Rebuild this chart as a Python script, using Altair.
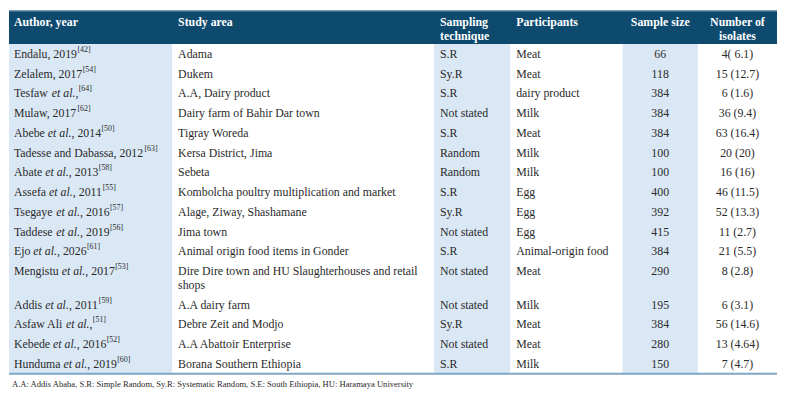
import altair as alt
import pandas as pd

# ---------------- data ----------------
author_names = ["Endalu", "Zelalem", "Tesfaw", "Mulaw", "Abebe", "Tadesse and Dabassa",
                "Abate", "Assefa", "Tsegaye", "Taddese", "Ejo", "Mengistu", "Addis",
                "Asfaw Ali", "Kebede", "Hunduma"]
author_etal = [False, False, True, False, True, False, True, True, True, True, True,
               True, True, True, True, True]
author_years = ["2019", "2017", "", "2017", "2014", "2012", "2013", "2011", "2016",
                "2019", "2026", "2017", "2011", "", "2016", "2019"]
author_refs = [42, 54, 64, 62, 50, 63, 58, 55, 57, 56, 61, 53, 59, 51, 52, 60]
study_area = ["Adama", "Dukem", "A.A, Dairy product", "Dairy farm of Bahir Dar town",
              "Tigray Woreda", "Kersa District, Jima", "Sebeta",
              "Kombolcha poultry multiplication and market",
              "Alage, Ziway, Shashamane", "Jima town",
              "Animal origin food items in Gonder",
              "Dire Dire town and HU Slaughterhouses and retail\nshops",
              "A.A dairy farm", "Debre Zeit and Modjo", "A.A Abattoir Enterprise",
              "Borana Southern Ethiopia"]
sampling = ["S.R", "Sy.R", "S.R", "Not stated", "S.R", "Random", "Random", "S.R",
            "Sy.R", "Not stated", "S.R", "Not stated", "Not stated", "Sy.R",
            "Not stated", "S.R"]
participants = ["Meat", "Meat", "dairy product", "Milk", "Meat", "Milk", "Milk", "Egg",
                "Egg", "Egg", "Animal-origin food", "Meat", "Milk", "Meat", "Meat", "Milk"]
sample_size = [66, 118, 384, 384, 384, 100, 100, 400, 392, 415, 384, 290, 195, 384,
               280, 150]
isolates = ["4( 6.1)", "15 (12.7)", "6 (1.6)", "36 (9.4)", "63 (16.4)", "20 (20)",
            "16 (16)", "46 (11.5)", "52 (13.3)", "11 (2.7)", "21 (5.5)", "8 (2.8)",
            "6 (3.1)", "56 (14.6)", "13 (4.64)", "7 (4.7)"]
headers = [["Author, year"], ["Study area"], ["Sampling", "technique"], ["Participants"],
           ["Sample size"], ["Number of", "isolates"]]
header_align = ["left", "left", "left", "left", "center", "center"]
footnote = ("A.A: Addis Ababa, S.R: Simple Random, Sy.R: Systematic Random, "
            "S.E: South Ethiopia, HU: Haramaya University")

# ---------------- layout / style ----------------
W, H = 778, 387
REF_W = 786
col_edges = [e * W / REF_W for e in [0, 167, 435, 513, 628, 705, 786]]
HEADER_H = 34
ROW_H = 20
LINE_H = 14
PAD = 5
FONT = "Liberation Serif"
FS = 12
SUP_FS = 8
HEADER_BG = "#0d4a6e"
STRIPE = "#dae8f6"
RULE = "#7ea6c4"
TXT = "#2a2a2a"

# Times (Liberation Serif) advance widths, per 1000 em
_reg = {
    **dict(zip("ABCDEFGHIJKLMNOPQRSTUVWXYZ",
               [722, 667, 667, 722, 611, 556, 722, 722, 333, 389, 722, 611, 889, 722,
                722, 556, 722, 667, 556, 611, 722, 722, 944, 722, 722, 611])),
    **dict(zip("abcdefghijklmnopqrstuvwxyz",
               [444, 500, 444, 500, 444, 333, 500, 500, 278, 278, 500, 278, 778, 500,
                500, 500, 500, 333, 389, 278, 500, 500, 722, 500, 500, 444])),
    **{d: 500 for d in "0123456789"},
    " ": 250, ",": 250, ".": 250, "[": 333, "]": 333, "(": 333, ")": 333, "-": 333,
    ":": 278,
}
_ital = dict(_reg)
_ital.update({"a": 500, "e": 444, "t": 278, "l": 278, ".": 250, " ": 250})


def text_width(s, italic=False, size=FS):
    table = _ital if italic else _reg
    return sum(table.get(c, 500) for c in s) * size / 1000.0


plain_left, plain_center, italic_rows, sup_rows, header_rows = [], [], [], [], []

# header text
for ci, (lines, al) in enumerate(zip(headers, header_align)):
    for li, line in enumerate(lines):
        if al == "left":
            x = col_edges[ci] + PAD + (1 if ci else 0)
        else:
            x = (col_edges[ci] + col_edges[ci + 1]) / 2
        header_rows.append(dict(x=x, y=12 + li * 13.5, t=line, al=al))

# body
y_top = HEADER_H
for i in range(len(author_names)):
    area_lines = study_area[i].split("\n")
    nlines = len(area_lines)
    yc = y_top + ROW_H / 2
    # author cell (regular, italic and superscript pieces)
    x = col_edges[0] + PAD
    if author_etal[i]:
        tail = (", " + author_years[i]) if author_years[i] else ","
        segs = [(author_names[i] + " ", False), ("et al.", True), (tail, False)]
    else:
        segs = [(author_names[i] + ", " + author_years[i], False)]
    for s, it in segs:
        (italic_rows if it else plain_left).append(dict(x=x, y=yc, t=s.rstrip()))
        x += text_width(s, it)
    sup_rows.append(dict(x=x + 0.3, y=yc - 4, t=f"[{author_refs[i]}]"))
    # study area
    for li, line in enumerate(area_lines):
        plain_left.append(dict(x=col_edges[1] + PAD + 1, y=yc + li * LINE_H, t=line))
    plain_left.append(dict(x=col_edges[2] + PAD + 1, y=yc, t=sampling[i]))
    plain_left.append(dict(x=col_edges[3] + PAD + 1, y=yc, t=participants[i]))
    plain_center.append(dict(x=(col_edges[4] + col_edges[5]) / 2, y=yc,
                             t=str(sample_size[i])))
    plain_center.append(dict(x=(col_edges[5] + col_edges[6]) / 2, y=yc, t=isolates[i]))
    y_top += ROW_H + LINE_H * (nlines - 1)

table_bottom = y_top

X = lambda f="x": alt.X(f"{f}:Q", scale=None, axis=None)
Y = lambda f="y": alt.Y(f"{f}:Q", scale=None, axis=None)

# stripes
stripes = pd.DataFrame([dict(x=col_edges[c], x2=col_edges[c + 1], y=HEADER_H,
                             y2=table_bottom) for c in (0, 2, 4)])
stripe_layer = alt.Chart(stripes).mark_rect(color=STRIPE).encode(
    x=X(), x2="x2:Q", y=Y(), y2="y2:Q")

header_bg = alt.Chart(pd.DataFrame([dict(x=0, x2=W, y=0, y2=HEADER_H)])).mark_rect(
    color=HEADER_BG).encode(x=X(), x2="x2:Q", y=Y(), y2="y2:Q")

top_line = alt.Chart(pd.DataFrame([dict(x=0, x2=W, y=0.5)])).mark_rule(
    color="#6f93ad", strokeWidth=1).encode(x=X(), x2="x2:Q", y=Y())

bottom_rule = alt.Chart(pd.DataFrame([dict(x=0, x2=W, y=table_bottom)])).mark_rule(
    color=RULE, strokeWidth=2).encode(x=X(), x2="x2:Q", y=Y())


def text_layer(rows, align="left", size=FS, style="normal", weight="normal",
               color=TXT):
    return alt.Chart(pd.DataFrame(rows)).mark_text(
        align=align, baseline="middle", font=FONT, fontSize=size, fontStyle=style,
        fontWeight=weight, color=color).encode(x=X(), y=Y(), text="t:N")


hdr_left = text_layer([r for r in header_rows if r["al"] == "left"], "left",
                      weight="bold", color="white")
hdr_center = text_layer([r for r in header_rows if r["al"] == "center"], "center",
                        weight="bold", color="white")
body_left = text_layer(plain_left, "left")
body_center = text_layer(plain_center, "center")
body_italic = text_layer(italic_rows, "left", style="italic")
body_sup = text_layer(sup_rows, "left", size=SUP_FS)
foot = text_layer([dict(x=PAD - 2, y=table_bottom + 10, t=footnote)], "left", size=8.7)

chart = alt.layer(stripe_layer, header_bg, top_line, bottom_rule, hdr_left, hdr_center,
                  body_left, body_center, body_italic, body_sup, foot).properties(
    width=W, height=H, padding=0, background="white"
).configure_view(stroke=None)

chart.save("out.html", embed_options={"renderer": "svg", "actions": False})
